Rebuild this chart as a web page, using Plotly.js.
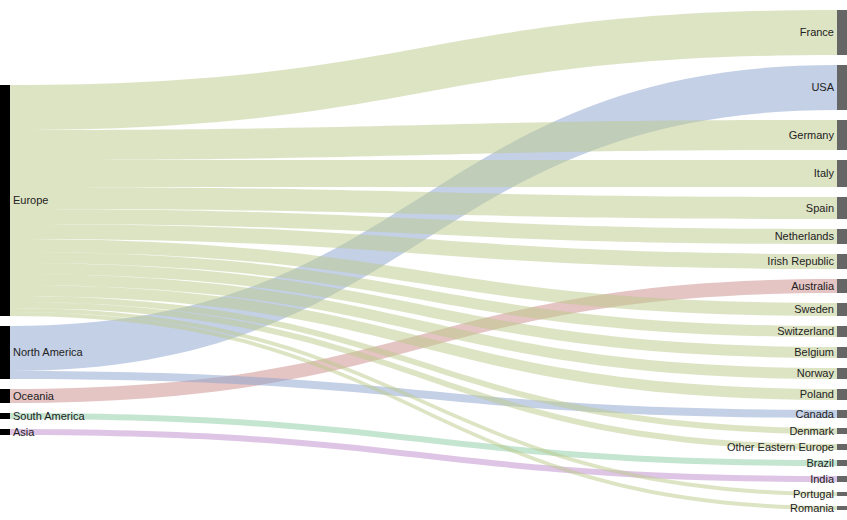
<!DOCTYPE html>
<html>
<head>
<meta charset="utf-8">
<script src="https://cdn.plot.ly/plotly-3.0.1.min.js"></script>
<style>
  html, body { margin: 0; padding: 0; background: #ffffff; }
  #chart { width: 847px; height: 520px; }
</style>
</head>
<body>
<div id="chart"></div>
<script>
// Source regions (left column), biggest first
var REGIONS = ["Europe", "North America", "Oceania", "South America", "Asia"];

// Destination countries (right column), in the order they are stacked
var COUNTRIES = [
  "France", "USA", "Germany", "Italy", "Spain", "Netherlands",
  "Irish Republic", "Australia", "Sweden", "Switzerland", "Belgium",
  "Norway", "Poland", "Canada", "Denmark", "Other Eastern Europe",
  "Brazil", "India", "Portugal", "Romania"
];

// Region each country belongs to
var COUNTRY_REGION = [
  "Europe", "North America", "Europe", "Europe", "Europe", "Europe",
  "Europe", "Oceania", "Europe", "Europe", "Europe",
  "Europe", "Europe", "North America", "Europe", "Europe",
  "South America", "Asia", "Europe", "Europe"
];

// Flow size per country
var VISITS = [
  45, 45, 30, 27, 22, 15,
  15, 14, 13, 11, 11,
  11, 11, 8, 6, 6,
  6, 6, 4, 4
];

var REGION_LINK_COLORS = [
  "rgba(187, 201, 137, 0.5)",
  "rgba(137, 161, 205, 0.5)",
  "rgba(203, 137, 137, 0.5)",
  "rgba(137, 203, 161, 0.5)",
  "rgba(189, 137, 203, 0.5)"
];

(function () {
  "use strict";

  var WIDTH = 847;
  var HEIGHT = 520;
  var MARGIN = { t: 10, r: 0, b: 10, l: 0 };
  var NODE_PAD = 10;
  var NODE_THICKNESS = 10;
  var FONT = '"Liberation Sans", Arial, sans-serif';

  function sum(arr) {
    return arr.reduce(function (a, b) { return a + b; }, 0);
  }

  var regionTotals = REGIONS.map(function (r) {
    var t = 0;
    COUNTRY_REGION.forEach(function (cr, i) {
      if (cr === r) t += VISITS[i];
    });
    return t;
  });

  // stack a column top-to-bottom in value order; same scale rule as d3-sankey
  var plotH = HEIGHT - MARGIN.t - MARGIN.b;
  var plotW = WIDTH - MARGIN.l - MARGIN.r;
  var ky = Math.min(
    (plotH - (REGIONS.length - 1) * NODE_PAD) / sum(regionTotals),
    (plotH - (COUNTRIES.length - 1) * NODE_PAD) / sum(VISITS)
  );

  function columnCenters(values) {
    var total = sum(values) * ky + (values.length - 1) * NODE_PAD;
    var y = (plotH - total) / 2;
    return values.map(function (v) {
      var c = y + (v * ky) / 2;
      y += v * ky + NODE_PAD;
      return c / plotH;
    });
  }

  var leftX = (NODE_THICKNESS / 2) / plotW;
  var rightX = 1 - leftX;

  var labels = REGIONS.concat(COUNTRIES);
  var nodeColors = REGIONS.map(function () { return "#000000"; })
    .concat(COUNTRIES.map(function () { return "#666666"; }));
  var nodeX = REGIONS.map(function () { return leftX; })
    .concat(COUNTRIES.map(function () { return rightX; }));
  var nodeY = columnCenters(regionTotals).concat(columnCenters(VISITS));

  var source = [];
  var target = [];
  var linkColors = [];
  COUNTRIES.forEach(function (c, i) {
    var r = REGIONS.indexOf(COUNTRY_REGION[i]);
    source.push(r);
    target.push(REGIONS.length + i);
    linkColors.push(REGION_LINK_COLORS[r]);
  });

  var trace = {
    type: "sankey",
    arrangement: "snap",
    domain: { x: [0, 1], y: [0, 1] },
    node: {
      label: labels,
      color: nodeColors,
      x: nodeX,
      y: nodeY,
      pad: NODE_PAD,
      thickness: NODE_THICKNESS,
      line: { width: 0 },
      hoverinfo: "none"
    },
    link: {
      source: source,
      target: target,
      value: VISITS,
      color: linkColors,
      hoverinfo: "none"
    },
    textfont: { family: FONT, size: 11, color: "#222222", shadow: "none" }
  };

  var layout = {
    width: WIDTH,
    height: HEIGHT,
    margin: MARGIN,
    paper_bgcolor: "#ffffff",
    plot_bgcolor: "#ffffff",
    font: { family: FONT, size: 11, color: "#222222" }
  };

  Plotly.newPlot("chart", [trace], layout, { displayModeBar: false, responsive: false });
})();
</script>
</body>
</html>
